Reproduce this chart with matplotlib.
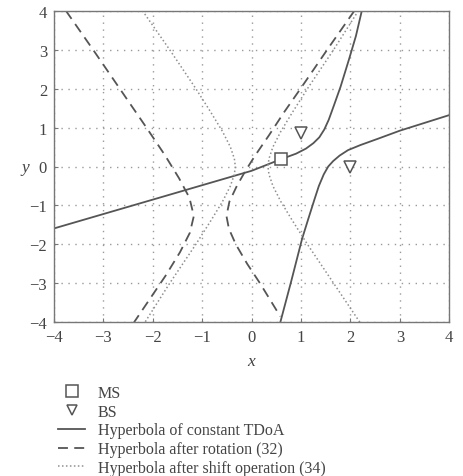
import matplotlib
matplotlib.use("Agg")
import matplotlib.pyplot as plt
from matplotlib.lines import Line2D

# ---- data ----
ms_x = [0.6]
ms_y = [0.2]
bs_x = [1.0, 2.0]
bs_y = [0.87, 0.0]

# Hyperbola of constant TDoA (two branches)
solid1_x = [-4.0, -3.0, -2.0, -1.0, 0.0, 0.6, 0.9, 1.1, 1.25, 1.37, 1.47, 1.56, 1.66, 1.8, 1.97, 2.11, 2.23]
solid1_y = [-1.59, -1.22, -0.85, -0.48, -0.11, 0.19, 0.33, 0.46, 0.6, 0.75, 0.95, 1.2, 1.55, 2.05, 2.75, 3.35, 4.0]
solid2_x = [0.58, 0.8, 1.02, 1.15, 1.27, 1.36, 1.46, 1.55, 1.65, 1.78, 1.95, 2.2, 2.55, 3.0, 3.5, 4.0]
solid2_y = [-4.0, -2.95, -1.86, -1.33, -0.85, -0.5, -0.2, 0.0, 0.14, 0.28, 0.42, 0.55, 0.71, 0.92, 1.12, 1.32]

# Hyperbola after rotation (32)
dash1_x = [-3.76, -3.21, -2.67, -2.13, -1.76, -1.47, -1.26, -1.17, -1.25, -1.45, -1.74, -2.06, -2.38]
dash1_y = [4.0, 3.0, 2.0, 1.0, 0.3, -0.3, -0.8, -1.27, -1.7, -2.2, -2.8, -3.4, -4.0]
dash2_x = [2.08, 1.53, 0.99, 0.66, 0.35, 0.08, -0.12, -0.30, -0.45, -0.51, -0.46, -0.32, -0.09, 0.17, 0.58]
dash2_y = [4.0, 3.0, 2.0, 1.4, 0.8, 0.3, -0.1, -0.5, -0.9, -1.27, -1.6, -2.0, -2.5, -3.0, -3.85]

# Hyperbola after shift operation (34)
dot1_x = [-2.21, -1.66, -1.13, -0.83, -0.59, -0.43, -0.35, -0.33, -0.35, -0.43, -0.59, -0.83, -1.13, -1.66, -2.16]
dot1_y = [4.0, 3.0, 2.0, 1.4, 0.9, 0.5, 0.2, 0.0, -0.2, -0.5, -0.9, -1.4, -2.0, -3.0, -4.0]
dot2_x = [2.16, 1.66, 1.13, 0.83, 0.59, 0.43, 0.35, 0.33, 0.35, 0.43, 0.59, 0.83, 1.13, 1.66, 2.19]
dot2_y = [4.0, 3.0, 2.0, 1.4, 0.9, 0.5, 0.2, 0.0, -0.2, -0.5, -0.9, -1.4, -2.0, -3.0, -4.0]

ticks = [-4, -3, -2, -1, 0, 1, 2, 3, 4]
legend_labels = ["MS", "BS", "Hyperbola of constant TDoA",
                 "Hyperbola after rotation (32)", "Hyperbola after shift operation (34)"]

# ---- styling ----
plt.rcParams['font.family'] = ['Liberation Serif', 'DejaVu Serif']
line_c = '#555555'
dot_c = '#8f8f8f'
txt_c = '#444444'

fig = plt.figure(figsize=(4.63, 4.77), dpi=100)
ax = fig.add_axes([54/463, 1-323.3/477, (449.3-54)/463, (323.3-11.7)/477])

ax.plot(solid1_x, solid1_y, color=line_c, lw=1.3)
ax.plot(solid2_x, solid2_y, color=line_c, lw=1.3)
ax.plot(dash1_x, dash1_y, color=line_c, lw=1.3, dashes=(5.5, 3.5))
ax.plot(dash2_x, dash2_y, color=line_c, lw=1.3, dashes=(5.5, 3.5))
ax.plot(dot1_x, dot1_y, color=dot_c, lw=1.1, dashes=(1, 1.6))
ax.plot(dot2_x, dot2_y, color=dot_c, lw=1.1, dashes=(1, 1.6))
ax.plot(ms_x, ms_y, linestyle='none', marker='s', markersize=9, mfc='white', mec=line_c, mew=1.1)
ax.plot(bs_x, bs_y, linestyle='none', marker='v', markersize=8, mfc='white', mec=line_c, mew=1.1)

ax.set_xlim(-4, 4)
ax.set_ylim(-4, 4)
ax.set_xticks(ticks)
ax.set_yticks(ticks)
ax.set_xticklabels(['\u2212%d' % -t if t < 0 else str(t) for t in ticks])
ax.set_yticklabels(['\u2212%d' % -t if t < 0 else str(t) for t in ticks])
ax.grid(True, color='#9a9a9a', lw=1.0, linestyle=(0, (1, 4)))
ax.tick_params(direction='in', length=3, width=0.8, colors='#777777',
               labelcolor=txt_c, labelsize=12, pad=5)
for s in ax.spines.values():
    s.set_color('#777777')
    s.set_linewidth(1.0)

fig.text(251/463, 1-362/477, 'x', style='italic', fontsize=12.5, color=txt_c, ha='center', va='center')
fig.text(25/463, 1-168/477, 'y', style='italic', fontsize=12.5, color=txt_c, ha='center', va='center')

handles = [
    Line2D([], [], linestyle='none', marker='s', markersize=8, mfc='white', mec=line_c, mew=1.1),
    Line2D([], [], linestyle='none', marker='v', markersize=7.5, mfc='white', mec=line_c, mew=1.1),
    Line2D([], [], color=line_c, lw=1.3),
    Line2D([], [], color=line_c, lw=1.3, dashes=(5.5, 3.5)),
    Line2D([], [], color=dot_c, lw=1.1, dashes=(1, 1.6)),
]
fig.legend(handles, legend_labels, loc='upper left', bbox_to_anchor=(58/463, 1-386/477),
           frameon=False, borderpad=0, borderaxespad=0, handlelength=1.7,
           handletextpad=0.8, labelspacing=0.17, fontsize=11.5, labelcolor=txt_c)

fig.savefig('out.png', dpi=100)
